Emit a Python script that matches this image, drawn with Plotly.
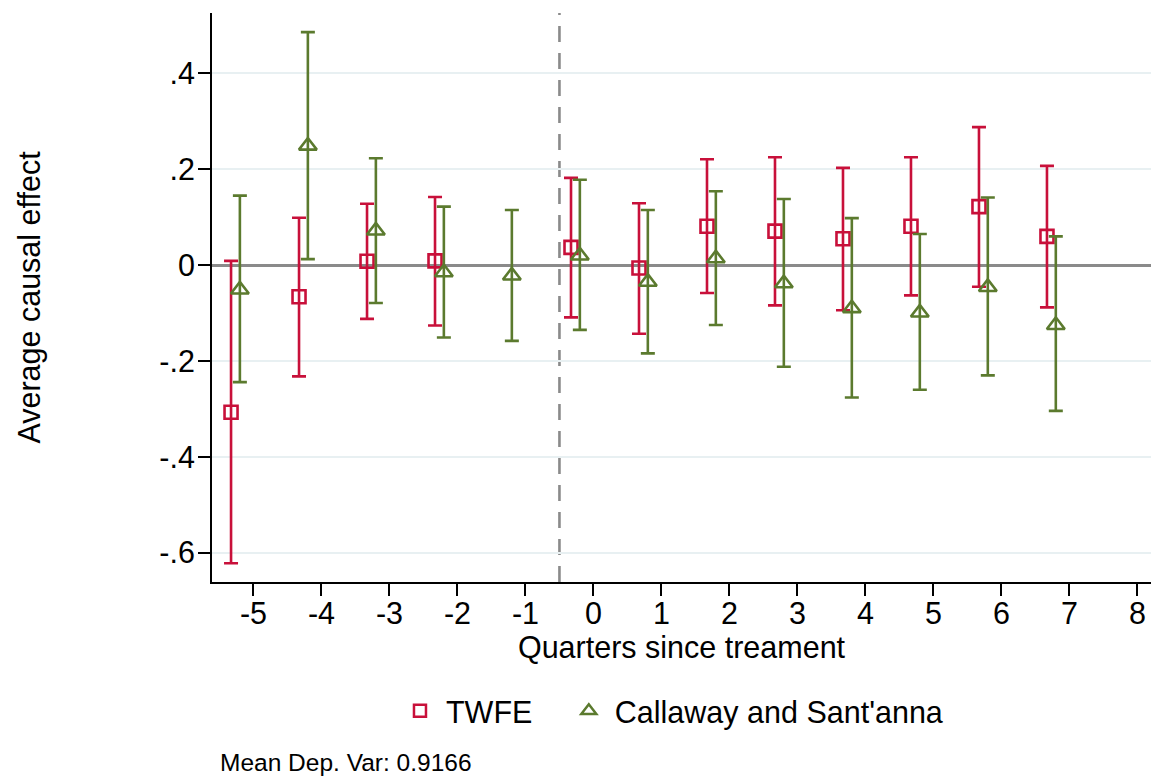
import plotly.graph_objects as go

# ---- data ----
quarters_twfe = [-5, -4, -3, -2, 0, 1, 2, 3, 4, 5, 6, 7]
twfe_est = [-0.307, -0.066, 0.008, 0.009, 0.037, -0.006, 0.081, 0.071, 0.055, 0.081, 0.122, 0.060]
twfe_lo = [-0.622, -0.232, -0.112, -0.126, -0.109, -0.143, -0.058, -0.084, -0.094, -0.063, -0.045, -0.088]
twfe_hi = [0.009, 0.099, 0.128, 0.142, 0.182, 0.129, 0.221, 0.225, 0.203, 0.225, 0.288, 0.207]

quarters_cs = [-5, -4, -3, -2, -1, 0, 1, 2, 3, 4, 5, 6, 7]
cs_est = [-0.051, 0.249, 0.072, -0.015, -0.022, 0.020, -0.035, 0.014, -0.038, -0.090, -0.099, -0.046, -0.125]
cs_lo = [-0.244, 0.0125, -0.079, -0.151, -0.158, -0.135, -0.184, -0.125, -0.212, -0.276, -0.260, -0.230, -0.304]
cs_hi = [0.145, 0.486, 0.223, 0.122, 0.115, 0.178, 0.115, 0.154, 0.138, 0.098, 0.065, 0.141, 0.060]

x_ticks = [-5, -4, -3, -2, -1, 0, 1, 2, 3, 4, 5, 6, 7, 8]
x_ticktext = ["-5", "-4", "-3", "-2", "-1", "0", "1", "2", "3", "4", "5", "6", "7", "8"]
y_ticks = [-0.6, -0.4, -0.2, 0, 0.2, 0.4]
y_ticktext = ["-.6", "-.4", "-.2", "0", ".2", ".4"]

# ---- styling ----
TWFE_OFFSET = -0.33
CS_OFFSET = -0.20
RED = "#c8103a"
GREEN = "#5b7a2e"
FONT = "Liberation Sans, Arial, sans-serif"
FS = 30.5
NBSP = "\u00a0"

x_twfe = [q + TWFE_OFFSET for q in quarters_twfe]
x_cs = [q + CS_OFFSET for q in quarters_cs]

fig = go.Figure()

fig.add_trace(go.Scatter(
    x=x_twfe, y=twfe_est, mode="markers", showlegend=False,
    marker=dict(symbol="square-open", size=13, color=RED, line=dict(width=2.6, color=RED)),
    error_y=dict(type="data", symmetric=False,
                 array=[h - e for h, e in zip(twfe_hi, twfe_est)],
                 arrayminus=[e - l for e, l in zip(twfe_est, twfe_lo)],
                 color=RED, thickness=2.6, width=7),
))
fig.add_trace(go.Scatter(
    x=x_cs, y=cs_est, mode="markers", showlegend=False,
    marker=dict(symbol="triangle-up-open", size=15.5, color=GREEN, line=dict(width=2.6, color=GREEN)),
    error_y=dict(type="data", symmetric=False,
                 array=[h - e for h, e in zip(cs_hi, cs_est)],
                 arrayminus=[e - l for e, l in zip(cs_est, cs_lo)],
                 color=GREEN, thickness=2.6, width=7),
))

# legend-only entries
fig.add_trace(go.Scatter(
    x=[None], y=[None], mode="markers", name="TWFE" + NBSP * 3,
    marker=dict(symbol="square-open", size=12, color=RED, line=dict(width=2.5, color=RED)),
))
fig.add_trace(go.Scatter(
    x=[None], y=[None], mode="markers", name="Callaway and Sant'anna",
    marker=dict(symbol="triangle-up-open", size=13, color=GREEN, line=dict(width=2.5, color=GREEN)),
))

# vertical dashed reference line
fig.add_shape(type="line", xref="x", yref="paper", x0=-0.5, x1=-0.5, y0=0, y1=1,
              line=dict(color="#8a8a8a", width=2.6, dash="16px,11px"), layer="below")

fig.update_layout(
    width=1151, height=779,
    margin=dict(l=212, r=0, t=13, b=197),
    paper_bgcolor="white", plot_bgcolor="white",
    font=dict(family=FONT, size=FS, color="black"),
    showlegend=True,
    legend=dict(orientation="h", x=0.1938, xanchor="left", y=-0.2267, yanchor="middle",
                font=dict(size=FS), itemwidth=42, tracegroupgap=0, bgcolor="rgba(0,0,0,0)"),
    xaxis=dict(
        range=[-5.61, 8.20], tickmode="array", tickvals=x_ticks, ticktext=x_ticktext,
        ticks="outside", ticklen=12, tickwidth=1.6, tickcolor="black",
        ticklabelstandoff=-9,
        showline=True, linecolor="black", linewidth=2,
        showgrid=False, zeroline=False,
        tickfont=dict(size=FS),
        title=dict(text="Quarters since treament", font=dict(size=FS), standoff=5),
    ),
    yaxis=dict(
        range=[-0.661, 0.526], tickmode="array", tickvals=y_ticks, ticktext=y_ticktext,
        ticks="outside", ticklen=12, tickwidth=1.6, tickcolor="black",
        ticklabelstandoff=-3,
        showline=True, linecolor="black", linewidth=2,
        showgrid=True, gridcolor="#e8f0f2", gridwidth=2,
        zeroline=True, zerolinecolor="#8a8a8a", zerolinewidth=2.6,
        tickfont=dict(size=FS),
        title=dict(text="Average causal effect", font=dict(size=FS), standoff=110),
    ),
    annotations=[dict(
        text="Mean Dep. Var: 0.9166", xref="paper", yref="paper",
        x=0.0064, y=-0.318, xanchor="left", yanchor="middle", showarrow=False,
        font=dict(size=24.5, family=FONT, color="black"),
    )],
)

fig.write_html("out.html")
